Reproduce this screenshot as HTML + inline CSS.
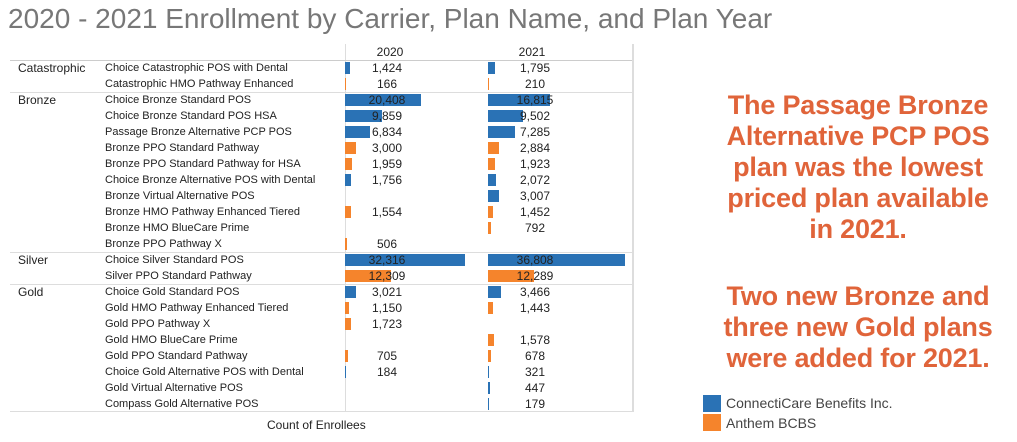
<!DOCTYPE html>
<html><head><meta charset="utf-8"><style>
body{margin:0;width:1017px;height:442px;background:#fff;position:relative;overflow:hidden;font-family:"Liberation Sans",Arial,sans-serif;color:#222}
.a{position:absolute;white-space:nowrap}
.r{position:absolute;left:0;width:640px;height:16px;font-size:11px;line-height:16px}
.t{position:absolute;left:18px;font-size:12px}
.p{position:absolute;left:105px}
.b{position:absolute;top:2px;height:12px}
.B{background:#2a72b5}.O{background:#f5842c}
.n{position:absolute;width:80px;text-align:center;font-size:12px}
.n1{left:347px}.n2{left:495px}
.h{position:absolute;left:10px;width:622px;height:1px;background:#ddd}
.o{position:absolute;left:688px;width:340px;text-align:center;color:#e0643a;font-weight:bold;font-size:27px;line-height:31px;letter-spacing:-0.2px}
</style></head><body>
<div class="a" style="left:8px;top:3px;font-size:28px;color:#777">2020 - 2021 Enrollment by Carrier, Plan Name, and Plan Year</div>
<div class="a" style="left:345px;top:44px;width:1px;height:368px;background:#ddd"></div>
<div class="a" style="left:632px;top:44px;width:2px;height:368px;background:#ddd"></div>
<div class="a" style="left:10px;top:411px;width:624px;height:1px;background:#ddd"></div>
<div class="h" style="top:60px;background:#ccc"></div>
<div class="h" style="top:92px"></div>
<div class="h" style="top:252px"></div>
<div class="h" style="top:284px"></div>
<div class="a" style="left:350px;top:45px;width:80px;text-align:center;font-size:12px">2020</div>
<div class="a" style="left:492px;top:45px;width:80px;text-align:center;font-size:12px">2021</div>

<div class="r" style="top:60px"><span class="t">Catastrophic</span><span class="p">Choice Catastrophic POS with Dental</span><div class="b B" style="left:345px;width:5px"></div><span class="n n1">1,424</span><div class="b B" style="left:488px;width:7px"></div><span class="n n2">1,795</span></div>
<div class="r" style="top:76px"><span class="p">Catastrophic HMO Pathway Enhanced</span><div class="b O" style="left:345px;width:1px"></div><span class="n n1">166</span><div class="b O" style="left:488px;width:1px"></div><span class="n n2">210</span></div>
<div class="r" style="top:92px"><span class="t">Bronze</span><span class="p">Choice Bronze Standard POS</span><div class="b B" style="left:345px;width:76px"></div><span class="n n1">20,408</span><div class="b B" style="left:488px;width:62px"></div><span class="n n2">16,815</span></div>
<div class="r" style="top:108px"><span class="p">Choice Bronze Standard POS HSA</span><div class="b B" style="left:345px;width:37px"></div><span class="n n1">9,859</span><div class="b B" style="left:488px;width:35px"></div><span class="n n2">9,502</span></div>
<div class="r" style="top:124px"><span class="p">Passage Bronze Alternative PCP POS</span><div class="b B" style="left:345px;width:25px"></div><span class="n n1">6,834</span><div class="b B" style="left:488px;width:27px"></div><span class="n n2">7,285</span></div>
<div class="r" style="top:140px"><span class="p">Bronze PPO Standard Pathway</span><div class="b O" style="left:345px;width:11px"></div><span class="n n1">3,000</span><div class="b O" style="left:488px;width:11px"></div><span class="n n2">2,884</span></div>
<div class="r" style="top:156px"><span class="p">Bronze PPO Standard Pathway for HSA</span><div class="b O" style="left:345px;width:7px"></div><span class="n n1">1,959</span><div class="b O" style="left:488px;width:7px"></div><span class="n n2">1,923</span></div>
<div class="r" style="top:172px"><span class="p">Choice Bronze Alternative POS with Dental</span><div class="b B" style="left:345px;width:6px"></div><span class="n n1">1,756</span><div class="b B" style="left:488px;width:8px"></div><span class="n n2">2,072</span></div>
<div class="r" style="top:188px"><span class="p">Bronze Virtual Alternative POS</span><div class="b B" style="left:488px;width:11px"></div><span class="n n2">3,007</span></div>
<div class="r" style="top:204px"><span class="p">Bronze HMO Pathway Enhanced Tiered</span><div class="b O" style="left:345px;width:6px"></div><span class="n n1">1,554</span><div class="b O" style="left:488px;width:5px"></div><span class="n n2">1,452</span></div>
<div class="r" style="top:220px"><span class="p">Bronze HMO BlueCare Prime</span><div class="b O" style="left:488px;width:3px"></div><span class="n n2">792</span></div>
<div class="r" style="top:236px"><span class="p">Bronze PPO Pathway X</span><div class="b O" style="left:345px;width:2px"></div><span class="n n1">506</span></div>
<div class="r" style="top:252px"><span class="t">Silver</span><span class="p">Choice Silver Standard POS</span><div class="b B" style="left:345px;width:120px"></div><span class="n n1">32,316</span><div class="b B" style="left:488px;width:137px"></div><span class="n n2">36,808</span></div>
<div class="r" style="top:268px"><span class="p">Silver PPO Standard Pathway</span><div class="b O" style="left:345px;width:46px"></div><span class="n n1">12,309</span><div class="b O" style="left:488px;width:46px"></div><span class="n n2">12,289</span></div>
<div class="r" style="top:284px"><span class="t">Gold</span><span class="p">Choice Gold Standard POS</span><div class="b B" style="left:345px;width:11px"></div><span class="n n1">3,021</span><div class="b B" style="left:488px;width:13px"></div><span class="n n2">3,466</span></div>
<div class="r" style="top:300px"><span class="p">Gold HMO Pathway Enhanced Tiered</span><div class="b O" style="left:345px;width:4px"></div><span class="n n1">1,150</span><div class="b O" style="left:488px;width:5px"></div><span class="n n2">1,443</span></div>
<div class="r" style="top:316px"><span class="p">Gold PPO Pathway X</span><div class="b O" style="left:345px;width:6px"></div><span class="n n1">1,723</span></div>
<div class="r" style="top:332px"><span class="p">Gold HMO BlueCare Prime</span><div class="b O" style="left:488px;width:6px"></div><span class="n n2">1,578</span></div>
<div class="r" style="top:348px"><span class="p">Gold PPO Standard Pathway</span><div class="b O" style="left:345px;width:3px"></div><span class="n n1">705</span><div class="b O" style="left:488px;width:3px"></div><span class="n n2">678</span></div>
<div class="r" style="top:364px"><span class="p">Choice Gold Alternative POS with Dental</span><div class="b B" style="left:345px;width:1px"></div><span class="n n1">184</span><div class="b B" style="left:488px;width:1px"></div><span class="n n2">321</span></div>
<div class="r" style="top:380px"><span class="p">Gold Virtual Alternative POS</span><div class="b B" style="left:488px;width:2px"></div><span class="n n2">447</span></div>
<div class="r" style="top:396px"><span class="p">Compass Gold Alternative POS</span><div class="b B" style="left:488px;width:1px"></div><span class="n n2">179</span></div>

<div class="a" style="left:267px;top:418px;font-size:12px">Count of Enrollees</div>

<div class="o" style="top:90px">The Passage Bronze<br>Alternative PCP POS<br>plan was the lowest<br>priced plan available<br>in 2021.</div>
<div class="o" style="top:281px">Two new Bronze and<br>three new Gold plans<br>were added for 2021.</div>

<div class="a B" style="left:703px;top:395px;width:18px;height:17px"></div>
<div class="a O" style="left:703px;top:414px;width:18px;height:17px"></div>
<div class="a" style="left:726px;top:395px;font-size:14px;color:#444">ConnectiCare Benefits Inc.</div>
<div class="a" style="left:726px;top:415px;font-size:14px;color:#444">Anthem BCBS</div>
</body></html>
